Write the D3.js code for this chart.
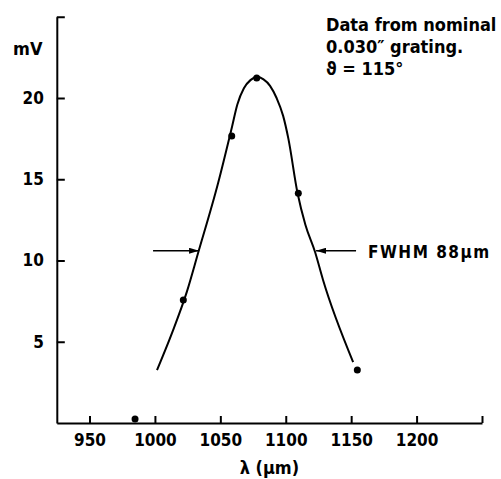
<!DOCTYPE html>
<html>
<head>
<meta charset="utf-8">
<script src="https://cdn.jsdelivr.net/npm/d3@7"></script>
<style>
  html, body { margin: 0; padding: 0; background: #fff; }
  svg text { font-family: "DejaVu Sans Condensed", "DejaVu Sans", sans-serif; fill: #000; font-weight: bold; }
</style>
</head>
<body>
<svg id="chart" width="501" height="479"></svg>
<script>
// measured points (wavelength in um, signal in mV)
const pointLambda = [984.8, 1021.7, 1058.7, 1077.8, 1109.6, 1154.7]
const pointMv = [0.25, 7.57, 17.66, 21.23, 14.14, 3.26]

// hand drawn fit curve through the points
const curveLambda = [1001.6, 1013.1, 1024.5, 1033.0, 1048.3, 1058.9, 1063.0, 1068.0, 1073.0, 1078.1, 1083.0, 1088.0, 1093.0, 1098.0, 1102.0, 1109.0, 1115.0, 1122.4, 1128.5, 1151.5]
const curveMv = [3.26, 5.55, 8.1, 10.46, 14.77, 18.22, 19.6, 20.6, 21.1, 21.29, 21.15, 20.75, 20.0, 18.9, 17.5, 14.15, 12.2, 10.52, 8.8, 3.75]

// axis ticks
const xTicks = [950, 1000, 1050, 1100, 1150, 1200, 1250]
const yTicks = [5, 10, 15, 20, 25]

// full width at half maximum
const fwhmLevel = 10.6
const fwhmLeft = 1034.5
const fwhmRight = 1122.4
const fwhmLabel = 'FWHM 88\u00b5m'

const notes = ['Data from nominal', '0.030\u2033 grating.', '\u03d1 = 115\u00b0']

// scales
const x = d3.scaleLinear().domain([925, 1250]).range([56.8, 482])
const y = d3.scaleLinear().domain([0, 25]).range([423, 16.75])

const svg = d3.select('#chart')

// defs
svg.append('defs')
    .append('marker')
    .attr('id', 'head')
    .attr('viewBox', '0 0 10 6')
    .attr('refX', 10)
    .attr('refY', 3)
    .attr('markerWidth', 10)
    .attr('markerHeight', 6)
    .attr('markerUnits', 'userSpaceOnUse')
    .attr('orient', 'auto')
    .append('path')
    .attr('d', 'M0,0L10,3L0,6Z')
    .attr('fill', '#000')

// axes
const xAxis = d3.axisBottom(x)
    .tickValues(xTicks)
    .tickSizeInner(-7)
    .tickSizeOuter(0)
    .tickPadding(11)
    .tickFormat(d => d === 1250 ? '' : d)

const yAxis = d3.axisLeft(y)
    .tickValues(yTicks)
    .tickSizeInner(-8)
    .tickSizeOuter(0)
    .tickPadding(13)
    .tickFormat(d => d === 25 ? '' : d)

const gx = svg.append('g')
    .attr('transform', `translate(0,${y(0)})`)
    .call(xAxis)

const gy = svg.append('g')
    .attr('transform', `translate(${x(925)},0)`)
    .call(yAxis)

for (const g of [gx, gy]) {
    g.selectAll('path, line').attr('stroke', '#000').attr('stroke-width', 2)
    g.selectAll('text').attr('font-size', 17).attr('font-family', null)
}

// axis titles
svg.append('text')
    .attr('x', 13)
    .attr('y', 55)
    .attr('font-size', 18)
    .text('mV')

svg.append('text')
    .attr('x', (x(925) + x(1250)) / 2)
    .attr('y', 474)
    .attr('text-anchor', 'middle')
    .attr('font-size', 18)
    .text('\u03bb (\u00b5m)')

// curve
const line = d3.line()
    .x((d, i) => x(curveLambda[i]))
    .y((d, i) => y(curveMv[i]))
    .curve(d3.curveMonotoneX)

svg.append('path')
    .datum(curveLambda)
    .attr('d', line)
    .attr('fill', 'none')
    .attr('stroke', '#000')
    .attr('stroke-width', 2)

// points
svg.selectAll('circle.pt')
    .data(pointLambda)
    .enter()
    .append('circle')
    .attr('class', 'pt')
    .attr('cx', d => x(d))
    .attr('cy', (d, i) => y(pointMv[i]))
    .attr('r', 3.5)
    .attr('fill', '#000')

// FWHM arrows
svg.append('line')
    .attr('x1', x(fwhmLeft) - 47)
    .attr('x2', x(fwhmLeft) - 1)
    .attr('y1', y(fwhmLevel))
    .attr('y2', y(fwhmLevel))
    .attr('stroke', '#000')
    .attr('stroke-width', 1.5)
    .attr('marker-end', 'url(#head)')

svg.append('line')
    .attr('x1', x(fwhmRight) + 41)
    .attr('x2', x(fwhmRight) + 1)
    .attr('y1', y(fwhmLevel))
    .attr('y2', y(fwhmLevel))
    .attr('stroke', '#000')
    .attr('stroke-width', 1.5)
    .attr('marker-end', 'url(#head)')

svg.append('text')
    .attr('x', 368)
    .attr('y', y(fwhmLevel) + 7)
    .attr('font-size', 17)
    .attr('letter-spacing', 1.5)
    .text(fwhmLabel)

// notes
svg.selectAll('text.note')
    .data(notes)
    .enter()
    .append('text')
    .attr('class', 'note')
    .attr('x', 326)
    .attr('y', (d, i) => 31 + i * 22)
    .attr('font-size', 18)
    .text(d => d)
</script>
</body>
</html>
